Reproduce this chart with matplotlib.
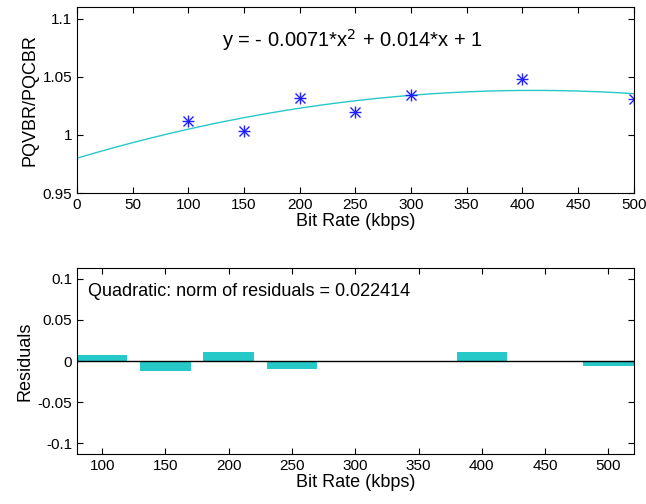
import numpy as np
import matplotlib.pyplot as plt

plt.rcParams["font.family"] = ["Liberation Sans", "DejaVu Sans"]

# measured ratio PQ(VBR)/PQ(CBR) per bit rate
bit_rate = [100, 150, 200, 250, 300, 400, 500]
pq_ratio = [1.012, 1.003, 1.032, 1.020, 1.034, 1.048, 1.031]

# residuals shown in the lower panel
residuals = [0.0069, -0.0117, 0.0106, -0.0101, 0.0002, 0.0115, -0.0056]

fit_text = "y = - 0.0071*x$^2$ + 0.014*x + 1"
norm_text = "Quadratic: norm of residuals = 0.022414"

cyan = "#26c8c8"
blue = "#2020ff"

coef = np.polyfit(bit_rate, pq_ratio, 2)
xf = np.linspace(0, 500, 300)
yf = np.polyval(coef, xf)

fig = plt.figure(figsize=(6.46, 5.04), dpi=100)
ax1 = fig.add_axes([0.119, 0.617, 0.862, 0.369])
ax2 = fig.add_axes([0.119, 0.099, 0.862, 0.369])

ax1.plot(xf, yf, color=cyan, linewidth=1.0)
# matlab style asterisk = plus + cross
ax1.plot(bit_rate, pq_ratio, linestyle="none", marker="+", markersize=9,
         color=blue, markeredgewidth=1.0)
ax1.plot(bit_rate, pq_ratio, linestyle="none", marker="x", markersize=7,
         color=blue, markeredgewidth=1.0)
ax1.set_xlim(0, 500)
ax1.set_ylim(0.95, 1.11)
ax1.set_xticks(np.arange(0, 501, 50))
ax1.set_yticks([0.95, 1.0, 1.05, 1.1])
ax1.set_yticklabels(["0.95", "1", "1.05", "1.1"])
ax1.set_xlabel("Bit Rate (kbps)", labelpad=1)
ax1.set_ylabel("PQVBR/PQCBR", labelpad=3)
ax1.text(130, 1.082, fit_text, fontsize=14.5, va="center", ha="left")

ax2.bar(bit_rate, residuals, width=40, color=cyan, edgecolor="none")
ax2.axhline(0, color="black", linewidth=1.0)
ax2.set_xlim(80, 520)
ax2.set_ylim(-0.113, 0.113)
ax2.set_xticks(np.arange(100, 501, 50))
ax2.set_yticks([-0.1, -0.05, 0, 0.05, 0.1])
ax2.set_yticklabels(["-0.1", "-0.05", "0", "0.05", "0.1"])
ax2.set_xlabel("Bit Rate (kbps)", labelpad=1)
ax2.set_ylabel("Residuals", labelpad=3)
ax2.text(89, 0.084, norm_text, fontsize=13, va="center", ha="left")

for ax in (ax1, ax2):
    ax.tick_params(direction="in", top=True, right=True, labelsize=11, length=4)
    ax.xaxis.label.set_size(13)
    ax.yaxis.label.set_size(13)
    for sp in ax.spines.values():
        sp.set_linewidth(0.8)

fig.savefig("out.png", dpi=100)
